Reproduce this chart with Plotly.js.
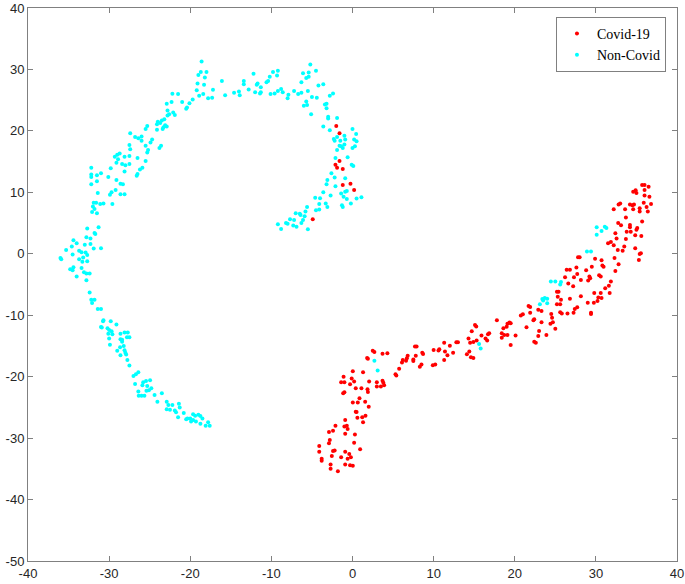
<!DOCTYPE html>
<html>
<head>
<meta charset="utf-8">
<script src="https://cdn.plot.ly/plotly-3.0.1.min.js"></script>
<style>html,body{margin:0;padding:0;background:#fff}#chart{width:685px;height:584px}</style>
</head>
<body>
<div id="chart"></div>
<script>
// Non-Covid (cyan) points
const nonCovidX = [
-18.6,-18.7,-18.0,-19.0,-18.2,-19.1,-18.3,-17.2,-19.2,-18.9,-18.4,-17.8,-17.3,-16.1,-13.4,-13.4,-12.8,-14.0,-14.6,-15.7,-13.9,
-19.7,-21.0,-20.1,-20.4,-20.5,-22.2,-21.5,-22.9,-22.3,-22.8,-22.1,-22.6,-21.9,-22.8,-23.2,-23.5,-24.0,-23.7,-24.1,-23.1,-23.3,-22.9,-23.4,-24.1,
-25.3,-25.5,-27.4,-26.8,-26.4,-26.0,-26.0,-24.7,-24.9,-25.5,-25.2,-25.3,-23.8,-23.6,-27.5,-27.4,-28.7,-29.0,-29.3,-28.9,-28.1,-27.5,
-28.4,-28.0,-27.5,-28.1,-26.5,-25.5,-25.9,-26.2,-26.5,-26.6,-32.2,-32.2,-32.2,-31.5,-31.0,-31.5,-32.2,-30.1,-29.8,-29.1,-29.1,-28.6,-28.3,
-29.2,-29.7,-29.9,-28.6,-28.1,-31.4,-31.9,-31.6,-31.1,-30.7,-32.0,-31.8,-32.1,-31.5,-29.6,-32.7,-31.3,-31.8,-31.7,-32.8,-32.3,
-12.2,-11.7,-11.8,-11.3,-11.3,-12.0,-11.4,-10.6,-10.4,-10.2,-9.8,-9.2,-9.3,-10.1,-9.6,-9.2,-8.8,-8.6,-7.9,-8.0,-7.2,-6.7,-6.3,-6.3,-6.1,
-5.4,-5.2,-5.4,-5.7,-4.5,-5.5,-5.0,-5.7,-5.6,-6.0,-4.2,-3.6,-4.4,-3.4,-3.2,-3.2,-2.8,-2.4,-5.1,-3.0,-3.0,-1.9,-3.6,-2.8,-2.3,-2.2,-1.9,
-1.0,-0.9,-1.5,-1.4,-1.2,-1.0,0.0,0.45,0.2,0.5,0.3,0.0,-1.9,-1.6,-2.1,-0.6,-0.1,0.1,-2.6,-2.2,-3.1,-3.2,-2.1,-0.9,-0.9,-0.7,-1.4,-1.1,-0.7,
0.5,1.1,-0.2,-1.3,-1.2,-2.7,-3.6,-3.3,-4.0,-4.6,-4.1,-4.1,-4.5,-3.1,-5.6,-5.8,-5.9,-6.1,-6.4,-7.0,-6.5,-5.5,-6.3,-7.2,-7.3,-7.7,-8.2,-8.0,-8.8,-9.2,-6.9,
-34.4,-34.0,-34.6,-32.3,-31.0,-31.9,-33.0,-35.3,-33.7,-33.4,-32.9,-32.7,-34.5,-33.2,-33.7,-33.3,-32.7,-36.0,-35.9,-34.8,-34.4,-34.5,-33.4,-33.1,-32.8,-32.4,-34.0,-32.8,
-32.4,-32.2,-31.8,-32.1,-31.4,-31.0,-30.7,-30.75,-31.0,-30.9,-29.8,-29.1,-30.2,-30.0,-29.7,-30.1,-29.6,-28.6,-28.1,-27.7,-30.0,-28.6,-28.4,-27.8,-27.5,
-29.9,-28.4,-28.2,-28.1,-28.65,-29.0,-28.6,-28.0,-27.9,-27.75,-27.5,-27.0,-26.7,-26.4,-26.8,-25.8,-25.45,-24.95,-25.9,-25.3,-24.8,-25.1,-26.4,-25.4,
-26.35,-26.0,-25.65,-24.4,-23.5,-24.05,-22.9,-22.7,-22.2,-21.4,-22.9,-22.5,-21.9,-21.75,-21.3,-20.8,-21.5,-20.35,-20.0,-19.65,-19.4,-19.0,-18.75,-18.5,
-19.65,-19.3,-18.75,-18.1,-17.8,-17.6,-19.9,-20.5,
2.7,3.1,15.6,15.8,
30.1,30.7,31.1,31.3,30.1,28.9,29.4,24.45,25.0,25.6,25.7,23.4,23.7,24.0,24.0,23.5,23.1
];
const nonCovidY = [
31.3,29.6,29.6,29.1,28.7,27.7,27.5,26.7,26.6,25.7,26.0,25.3,25.4,28.1,28.1,27.6,26.75,26.4,26.2,25.8,25.8,
25.1,24.7,24.5,23.8,23.6,26.05,26.0,24.4,24.7,23.3,23.0,22.7,22.6,22.5,21.9,21.7,21.5,21.3,21.1,20.9,20.6,20.7,20.3,20.2,
20.8,20.3,19.6,19.0,18.8,19.1,18.4,18.6,18.1,17.6,16.9,16.5,17.2,17.6,17.7,17.0,16.3,16.1,15.8,15.4,15.8,15.9,
14.6,14.4,14.6,13.4,15.6,15.1,14.0,13.7,13.0,12.7,14.0,12.9,12.5,12.8,13.1,11.8,11.3,12.5,13.9,14.8,12.0,11.4,11.3,
10.4,10.0,9.6,9.7,9.7,9.9,8.3,8.3,8.1,8.2,7.7,7.3,6.8,6.6,8.1,4.1,4.3,3.4,3.2,2.7,2.5,
29.3,27.7,27.5,27.1,26.3,26.3,26.1,27.9,28.1,28.8,29.6,29.8,29.0,26.0,26.1,26.5,26.8,26.3,25.9,25.3,26.5,26.0,26.2,27.9,29.4,
29.5,30.8,28.8,28.6,29.8,26.5,25.5,24.8,24.2,24.1,27.4,27.6,25.4,24.3,24.4,23.7,25.7,26.1,22.7,22.3,22.0,22.1,20.7,20.1,18.7,18.4,19.0,
19.2,18.6,18.4,17.5,17.2,17.8,20.3,19.5,18.6,18.3,17.5,17.2,16.9,17.6,15.6,15.7,14.5,14.3,13.1,12.4,12.0,11.3,11.0,12.3,10.1,10.2,9.8,9.3,8.9,
9.0,9.2,8.2,7.9,7.6,9.5,10.0,8.2,9.05,9.1,8.1,7.2,7.1,7.6,7.6,6.9,6.1,5.5,6.3,6.6,6.5,4.0,5.0,5.5,4.6,5.6,5.0,4.9,4.05,4.8,4.4,
2.2,1.7,1.2,1.6,0.9,0.85,1.45,0.6,0.5,0.25,0.2,-0.2,-0.1,-0.6,-0.9,-1.3,-1.2,-0.7,-0.9,-2.5,-2.2,-2.7,-2.3,-3.0,-3.2,-3.2,-3.7,-4.3,
-6.3,-7.5,-7.5,-8.0,-9.0,-9.0,-10.8,-11.0,-11.9,-12.0,-11.0,-11.5,-12.1,-12.4,-12.6,-13.0,-13.1,-13.0,-12.8,-12.8,-13.8,-13.9,-14.0,-13.6,-13.6,
-14.8,-14.3,-15.0,-15.7,-15.2,-15.8,-16.5,-16.1,-16.4,-17.3,-18.2,-19.9,-19.6,-19.3,-21.2,-20.9,-20.7,-20.6,-21.4,-21.5,-21.9,-22.2,-22.4,-22.3,
-23.1,-23.1,-23.1,-23.0,-22.7,-24.1,-24.1,-24.6,-24.6,-24.4,-25.3,-25.4,-25.5,-25.8,-25.0,-25.9,-26.6,-26.8,-26.8,-26.1,-26.35,-26.2,-26.4,-26.8,
-27.05,-27.3,-27.65,-28.0,-27.4,-28.0,-27.3,-26.95,
-17.4,-19.0,-14.7,-15.4,
4.3,3.7,4.4,4.2,3.1,0.36,0.36,-4.5,-4.5,-5.0,-4.6,-7.35,-7.2,-7.3,-8.05,-7.6,-8.2
];

// Covid-19 (red) points
const covidX = [
-2.0,-1.6,-1.6,-2.1,-1.9,-1.2,-1.2,-0.25,0.2,-4.9,
15.1,15.25,14.7,14.3,14.5,14.9,15.3,14.4,14.1,14.6,14.9,12.8,13.0,12.0,12.4,11.3,10.7,10.6,10.0,11.4,11.7,11.3,9.9,10.2,8.5,8.3,8.6,8.7,
7.7,7.9,7.8,7.5,7.5,6.8,6.7,6.6,6.1,6.2,5.75,5.3,5.4,4.3,3.7,2.7,2.5,1.8,1.9,1.3,0.04,-1.1,-0.1,-1.4,-1.0,-0.3,0.2,2.05,3.0,3.7,3.8,3.9,3.5,3.0,
0.4,1.1,1.85,1.9,-1.0,-1.15,0.86,0.65,0.04,1.56,2.0,0.4,0.5,1.6,1.2,0.6,1.3,-0.9,-1.0,-0.7,-0.6,-2.1,-2.4,-2.9,-0.9,0.3,-2.8,-2.9,0.2,0.94,
-4.1,-4.1,-2.2,-2.4,-2.55,-1.4,-0.9,-0.4,-0.2,-0.6,-3.8,-3.8,-2.7,-2.7,-1.8,-0.9,-0.3,0.04,
35.7,36.0,36.5,34.6,34.9,35.0,36.0,36.0,36.6,35.9,36.8,33.0,32.8,34.2,34.5,34.7,32.2,33.6,34.6,35.4,35.4,36.25,36.4,33.7,32.75,33.1,34.2,34.2,
35.1,35.0,35.7,33.8,34.3,32.4,32.55,33.7,31.5,31.85,32.2,34.85,35.6,32.7,33.3,33.5,34.85,35.4,35.55,35.3,32.3,27.8,28.0,29.9,30.7,30.8,30.95,
32.8,32.4,26.4,26.8,27.6,28.8,29.5,26.2,27.3,27.7,28.15,29.05,29.2,29.3,30.4,30.6,27.2,25.2,25.4,26.6,31.85,31.6,31.15,30.6,29.8,30.3,30.7,
31.7,30.2,29.75,29.0,28.15,26.8,25.3,25.7,25.2,25.6,27.7,27.4,27.25,26.5,25.6,25.8,29.4,29.4,22.9,23.3,24.5,24.6,24.4,24.7,25.0,23.3,22.3,22.4,
21.7,21.9,21.0,20.75,21.45,23.0,22.9,22.4,22.6,23.9,21.9,20.1,19.5,19.35,19.1,19.0,18.6,18.4,18.7,18.4,19.1,19.5,17.8,16.85,16.7,16.4,16.6,15.9
];
const covidY = [
20.8,19.6,15.1,14.5,14.0,13.8,11.2,11.4,10.4,5.6,
-11.6,-11.85,-12.6,-13.8,-14.46,-14.35,-14.1,-15.9,-16.36,-16.85,-16.96,-14.4,-14.4,-14.95,-16.1,-14.46,-15.55,-15.76,-15.65,-15.9,-16.5,-17.3,-18.15,-18.0,-18.0,-18.4,-16.1,-16.3,
-15.1,-15.1,-16.6,-17.2,-17.45,-16.6,-17.0,-17.4,-17.7,-17.3,-18.7,-19.6,-19.8,-16.2,-16.25,-15.98,-15.8,-16.96,-17.1,-19.3,-19.1,-20.0,-20.3,-20.9,-20.9,-21.25,-20.8,-20.8,-20.9,-20.65,-21.0,-21.4,-21.6,-21.6,
-21.9,-21.9,-22.06,-22.5,-22.55,-22.7,-23.5,-24.2,-24.2,-24.1,-24.9,-25.7,-25.75,-26.35,-26.6,-26.7,-27.4,-27.05,-28.1,-27.98,-28.5,-28.0,-28.8,-29.0,-29.3,-29.4,-30.3,-30.85,-30.75,-31.8,
-31.3,-32.2,-32.0,-32.1,-32.9,-33.1,-32.2,-32.6,-33.1,-33.35,-33.35,-33.7,-34.3,-35.0,-35.4,-34.3,-34.4,-34.5,
11.2,11.2,10.9,10.1,10.35,9.9,10.4,9.5,9.3,8.3,8.1,8.2,8.0,8.0,7.9,8.0,7.25,7.25,7.25,7.4,6.9,7.6,6.9,5.9,5.0,4.65,4.7,4.3,
4.2,3.9,5.25,3.6,3.6,3.35,2.5,2.4,1.7,1.9,1.4,3.0,2.9,0.6,0.5,1.2,0.9,-0.02,0.1,-1.0,-0.7,-0.56,-0.56,-0.8,-1.05,-1.9,-2.1,
-1.7,-2.8,-2.6,-2.6,-2.25,-2.7,-2.1,-3.8,-3.8,-3.3,-4.25,-4.35,-3.7,-4.0,-3.5,-3.7,-5.3,-6.2,-6.2,-4.85,-4.5,-5.2,-5.6,-6.4,-6.4,-7.1,-7.2,
-6.4,-7.7,-7.95,-7.95,-6.9,-7.3,-7.0,-7.5,-8.2,-8.2,-8.7,-8.98,-9.6,-9.7,-9.5,-9.7,-9.6,-9.8,-9.1,-9.3,-9.8,-10.4,-11.4,-11.15,-12.2,-11.15,-10.8,-10.66,
-8.5,-8.65,-9.85,-10.06,-11.96,-12.56,-13.4,-14.3,-14.5,-13.2,-9.6,-13.3,-11.3,-11.2,-11.4,-11.86,-12.1,-12.95,-13.2,-13.65,-13.2,-14.84,-10.8,-12.95,-13.1,-13.8,-14.1,-13.3
];

const seriesNames = ['Covid-19', 'Non-Covid'];
const xTicks = [-40, -30, -20, -10, 0, 10, 20, 30, 40];
const yTicks = [-50, -40, -30, -20, -10, 0, 10, 20, 30, 40];

const traces = [
  {x: covidX, y: covidY, name: seriesNames[0], type: 'scatter', mode: 'markers',
   marker: {color: '#ff0000', size: 4}},
  {x: nonCovidX, y: nonCovidY, name: seriesNames[1], type: 'scatter', mode: 'markers',
   marker: {color: '#00ffff', size: 4}}
];

const axisCommon = {
  showline: true, linecolor: '#808080', linewidth: 1, mirror: 'ticks',
  ticks: 'inside', ticklen: 5, tickcolor: '#808080', tickwidth: 1,
  showgrid: false, zeroline: false,
  tickfont: {family: 'Liberation Sans, Arial, sans-serif', size: 13, color: '#262626'}
};

const layout = {
  width: 685, height: 584,
  margin: {l: 28, r: 8, t: 8, b: 23, pad: 0},
  paper_bgcolor: '#ffffff', plot_bgcolor: '#ffffff',
  showlegend: true,
  xaxis: Object.assign({}, axisCommon, {range: [-40, 40], tickvals: xTicks, ticktext: xTicks.map(String)}),
  yaxis: Object.assign({}, axisCommon, {range: [-50, 40], tickvals: yTicks, ticktext: yTicks.map(String)}),
  legend: {
    x: 0.983, xanchor: 'right', y: 0.984, yanchor: 'top',
    bgcolor: '#ffffff', bordercolor: '#808080', borderwidth: 1,
    font: {family: 'Liberation Serif, Times New Roman, serif', size: 14, color: '#000000'},
    itemwidth: 30, tracegroupgap: 0, itemsizing: 'trace'
  }
};

Plotly.newPlot('chart', traces, layout, {displayModeBar: false, staticPlot: true});
</script>
</body>
</html>
